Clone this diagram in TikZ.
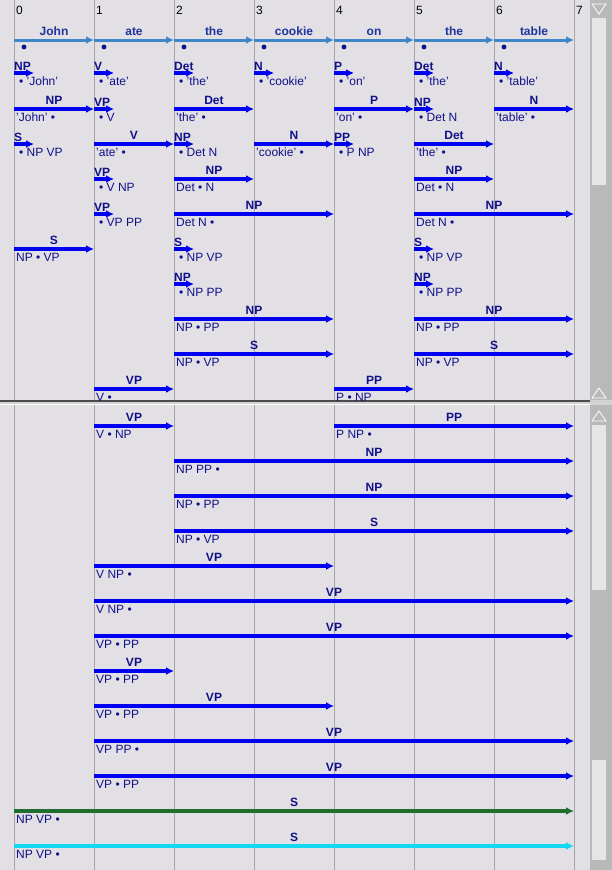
\documentclass[tikz,border=0pt]{standalone}
\usepackage{fontspec}
\setmainfont{Liberation Sans}
\usetikzlibrary{arrows.meta}
\definecolor{bg}{HTML}{E2E0E4}
\definecolor{eb}{HTML}{0000F0}
\definecolor{lab}{HTML}{10108A}
\definecolor{wb}{HTML}{3F86C8}
\definecolor{sg}{HTML}{1E6E2E}
\definecolor{sc}{HTML}{10D8F0}
\tikzset{
 edgeln/.style={line width=3.4pt,-{Latex[length=8pt,width=8pt]}},
 elab/.style={font=\fontsize{12}{13}\selectfont\bfseries,text=lab,inner sep=0pt,anchor=base},
 etxt/.style={font=\fontsize{12}{13}\selectfont,text=lab,inner sep=0pt,anchor=base west},
 colline/.style={draw=gray!70,line width=0.7pt},
}
\newcommand\chE[6][eb]{% color, from col, to col, y, label, text
 \pgfmathsetmacro\xa{14+80*#2}\pgfmathsetmacro\xb{14+80*#3}
 \ifnum#2=#3
  \draw[edgeln,draw=#1] (\xa,#4) -- (\xa+20,#4);
  \node[elab,anchor=base west] at (\xa,#4-3) {#5};
  \node[etxt] at (\xa+5,#4+12) {#6};
 \else
  \draw[edgeln,draw=#1] (\xa,#4) -- (\xb,#4);
  \node[elab] at ({(\xa+\xb)/2},#4-5) {#5};
  \node[etxt] at (\xa+2,#4+12) {#6};
 \fi}
\begin{document}
\begin{tikzpicture}[x=1pt,y=-1pt]
\useasboundingbox (0,0) rectangle (612,870);
\fill[bg] (0,0) rectangle (612,870);
\fill[gray!35] (0,400) rectangle (612,405);
\draw[gray!60!black,line width=1.2pt] (0,401) -- (590,401);
\draw[white,line width=1pt] (0,404) -- (590,404);
% scrollbars
\fill[gray!55] (590,0) rectangle (612,400);
\fill[gray!20] (592,18) rectangle (606,185);
\fill[gray!55] (590,405) rectangle (612,870);
\fill[gray!20] (592,425) rectangle (606,590);
\fill[gray!20] (592,760) rectangle (606,860);
\draw[white,line width=0.8pt] (592,4) -- (606,4) -- (599,14) -- cycle;
\draw[white,line width=0.8pt] (592,398) -- (606,398) -- (599,388) -- cycle;
\draw[white,line width=0.8pt] (592,421) -- (606,421) -- (599,411) -- cycle;
% columns
\foreach \i in {0,...,7}{
 \draw[colline] (14+80*\i,0) -- (14+80*\i,400);
 \draw[colline] (14+80*\i,405) -- (14+80*\i,870);
 \node[font=\fontsize{12}{13}\selectfont,inner sep=0pt,anchor=base west] at (16+80*\i,14) {\i};}
% words
\foreach \w [count=\i from 0] in {John,ate,the,cookie,on,the,table}{
 \draw[draw=wb,line width=3pt,-{Latex[length=8pt,width=8pt]}] (14+80*\i,40) -- (94+80*\i,40);
 \node[font=\fontsize{12}{13}\selectfont\bfseries,text=lab!70!wb,inner sep=0pt,anchor=base] at (54+80*\i,35) {\w};
 \fill[lab] (24+80*\i,47) circle (2.4pt);}
% row 1
\chE{0}{0}{73}{NP}{• 'John'}
\chE{1}{1}{73}{V}{• 'ate'}
\chE{2}{2}{73}{Det}{• 'the'}
\chE{3}{3}{73}{N}{• 'cookie'}
\chE{4}{4}{73}{P}{• 'on'}
\chE{5}{5}{73}{Det}{• 'the'}
\chE{6}{6}{73}{N}{• 'table'}
% row 2
\chE{0}{1}{109}{NP}{'John' •}
\chE{1}{1}{109}{VP}{• V}
\chE{2}{3}{109}{Det}{'the' •}
\chE{4}{5}{109}{P}{'on' •}
\chE{5}{5}{109}{NP}{• Det N}
\chE{6}{7}{109}{N}{'table' •}
% row 3
\chE{0}{0}{144}{S}{• NP VP}
\chE{1}{2}{144}{V}{'ate' •}
\chE{2}{2}{144}{NP}{• Det N}
\chE{3}{4}{144}{N}{'cookie' •}
\chE{4}{4}{144}{PP}{• P NP}
\chE{5}{6}{144}{Det}{'the' •}
% row 4
\chE{1}{1}{179}{VP}{• V NP}
\chE{2}{3}{179}{NP}{Det • N}
\chE{5}{6}{179}{NP}{Det • N}
% row 5
\chE{1}{1}{214}{VP}{• VP PP}
\chE{2}{4}{214}{NP}{Det N •}
\chE{5}{7}{214}{NP}{Det N •}
% row 6
\chE{0}{1}{249}{S}{NP • VP}
\chE{2}{2}{249}{S}{• NP VP}
\chE{5}{5}{249}{S}{• NP VP}
% row 7
\chE{2}{2}{284}{NP}{• NP PP}
\chE{5}{5}{284}{NP}{• NP PP}
% rows 8-10
\chE{2}{4}{319}{NP}{NP • PP}
\chE{5}{7}{319}{NP}{NP • PP}
\chE{2}{4}{354}{S}{NP • VP}
\chE{5}{7}{354}{S}{NP • VP}
\chE{1}{2}{389}{VP}{V •}
\chE{4}{5}{389}{PP}{P • NP}
% bottom pane
\chE{1}{2}{426}{VP}{V • NP}
\chE{4}{7}{426}{PP}{P NP •}
\chE{2}{7}{461}{NP}{NP PP •}
\chE{2}{7}{496}{NP}{NP • PP}
\chE{2}{7}{531}{S}{NP • VP}
\chE{1}{4}{566}{VP}{V NP •}
\chE{1}{7}{601}{VP}{V NP •}
\chE{1}{7}{636}{VP}{VP • PP}
\chE{1}{2}{671}{VP}{VP • PP}
\chE{1}{4}{706}{VP}{VP • PP}
\chE{1}{7}{741}{VP}{VP PP •}
\chE{1}{7}{776}{VP}{VP • PP}
\chE[sg]{0}{7}{811}{S}{NP VP •}
\chE[sc]{0}{7}{846}{S}{NP VP •}
\end{tikzpicture}
\end{document}
